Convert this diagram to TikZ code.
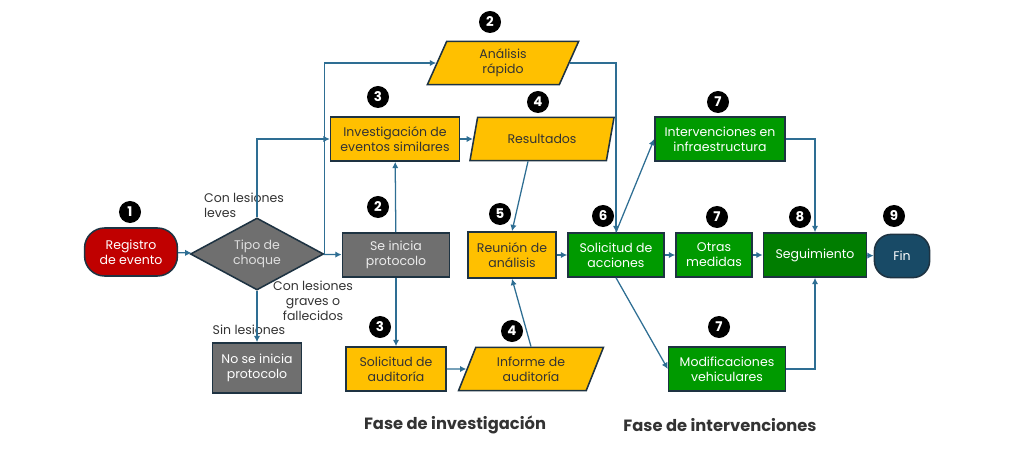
\documentclass[tikz,border=0pt]{standalone}
\usepackage{fontspec}
\setmainfont{Poppins}
\usetikzlibrary{shapes.geometric,arrows.meta}

\definecolor{lineablue}{HTML}{2E6E93}
\definecolor{borde}{HTML}{1E3342}
\definecolor{rojo}{HTML}{C00000}
\definecolor{gris}{HTML}{6F6F6F}
\definecolor{amarillo}{HTML}{FFC000}
\definecolor{verde}{HTML}{009A00}
\definecolor{verdeosc}{HTML}{007D00}
\definecolor{azulfin}{HTML}{184A66}
\definecolor{texto}{HTML}{333333}

\begin{document}
\begin{tikzpicture}[
	x=0.025cm, y=-0.025cm,
	font=\fontsize{8.9}{10.7}\selectfont,
	inicio/.style={
		rectangle,
		draw=borde,
		line width=1.1pt,
		align=center,
		rounded corners=0.5cm,
		fill=rojo,
		text=white,
		minimum height=1.2cm,
		minimum width=2.32cm
	},
	decision/.style={
		diamond,
		draw=borde,
		line width=1.1pt,
		align=center,
		aspect=1.85,
		inner sep=0pt,
		fill=gris,
		text=gray!25,
		minimum height=1.8cm,
		minimum width=3.33cm
	},
	protocolo/.style={
		rectangle,
		draw=borde,
		line width=1.1pt,
		align=center,
		fill=gris,
		text=gray!15,
		minimum height=1.1cm,
		minimum width=2.68cm
	},
	tarea/.style={
		rectangle,
		draw=borde,
		line width=1.1pt,
		align=center,
		inner sep=1pt,
		fill=amarillo,
		text=texto,
		minimum height=1.1cm
	},
	dato/.style={
		trapezium,
		trapezium left angle=58,
		trapezium right angle=122,
		trapezium stretches body=true,
		draw=borde,
		line width=1.1pt,
		align=center,
		inner sep=1pt,
		fill=amarillo,
		text=texto,
		minimum height=1.08cm,
		minimum width=3.62cm
	},
	accion/.style={
		rectangle,
		draw=borde,
		line width=1.1pt,
		align=center,
		inner sep=1pt,
		fill=verde,
		text=white,
		minimum height=1.1cm
	},
	fin/.style={
		rectangle,
		draw=borde,
		line width=1.1pt,
		align=center,
		rounded corners=0.42cm,
		fill=azulfin,
		text=white,
		minimum height=1.08cm,
		minimum width=1.38cm
	},
	num/.style={
		circle,
		fill=black,
		text=white,
		inner sep=0pt,
		minimum size=0.55cm,
		font=\fontsize{9.5}{9.5}\selectfont\bfseries
	},
	rama/.style={
		text=texto,
		inner sep=0pt
	},
	fase/.style={
		text=texto,
		font=\fontsize{11.6}{13}\selectfont\bfseries
	},
	flecha/.style={
		draw=lineablue,
		line width=0.9pt,
		-{Latex[length=4.5pt,width=4.5pt]}
	}
]

\useasboundingbox (0,0) rectangle (1024,465);

\node[inicio] (registro) at (131,252) {Registro\\de evento};
\node[decision] (choque) at (257,254) {Tipo de\\choque};
\node[protocolo, minimum width=2.22cm, minimum height=1.25cm, text=white] (noinicia) at (257,368) {No se inicia\\protocolo};
\node[protocolo] (inicia) at (396,255) {Se inicia\\protocolo};

\node[tarea, minimum width=3.22cm] (investigacion) at (395,139) {Investigación de\\eventos similares};
\node[dato, minimum width=3.78cm] (analisis) at (503,63) {Análisis\\rápido};
\node[dato, minimum width=3.6cm] (resultados) at (542,139) {Resultados};
\node[tarea, minimum width=2.2cm, minimum height=1.15cm] (reunion) at (512,255) {Reunión de\\análisis};
\node[tarea, minimum width=2.5cm] (auditoria) at (396,369) {Solicitud de\\auditoría};
\node[dato] (informe) at (531,369) {Informe de\\auditoría};

\node[accion, minimum width=2.4cm] (acciones) at (616,255) {Solicitud de\\acciones};
\node[accion, minimum width=3.25cm] (infra) at (720,139) {Intervenciones en\\infraestructura};
\node[accion, minimum width=1.9cm] (otras) at (714,255) {Otras\\medidas};
\node[accion, minimum width=2.92cm] (vehiculares) at (727,369) {Modificaciones\\vehiculares};
\node[accion, fill=verdeosc, minimum width=2.58cm] (seguimiento) at (815,255) {Seguimiento};
\node[fin] (final) at (902,256) {Fin};

\node[rama, align=left] (leves) at (244,205) {Con lesiones\\leves};
\node[rama, align=center] (graves) at (313,301) {Con lesiones\\graves o\\fallecidos};
\node[rama] (sin) at (249,330) {Sin lesiones};

\node[num] (n1) at (130,212) {1};
\node[num] (n2a) at (490,22) {2};
\node[num] (n3a) at (378,97) {3};
\node[num] (n4a) at (538,102) {4};
\node[num] (n2b) at (378,207) {2};
\node[num] (n5) at (500,214) {5};
\node[num] (n6) at (603,216) {6};
\node[num] (n7a) at (718,102) {7};
\node[num] (n7b) at (717,217) {7};
\node[num] (n8) at (800,217) {8};
\node[num] (n9) at (894,216) {9};
\node[num] (n3b) at (380,327) {3};
\node[num] (n4b) at (512,331) {4};
\node[num] (n7c) at (719,327) {7};

\node[fase] (faseinv) at (455,425) {Fase de investigación};
\node[fase] (faseint) at (720,425) {Fase de intervenciones};

\draw[flecha] (registro) -- (choque);
\draw[flecha] (choque) -- (inicia);
\draw[flecha] (choque.north) |- (investigacion.west);
\draw[flecha] (choque.east) |- (analisis.west);
\draw[flecha] (choque) -- (noinicia);

\draw[flecha] (inicia) -- (investigacion);
\draw[flecha] (inicia) -- (auditoria);
\draw[flecha] (investigacion) -- (resultados);
\draw[flecha] ([xshift=-0.35cm]resultados.south) -- (reunion.north);
\draw[flecha] (auditoria) -- (informe);
\draw[flecha] (informe.north) -- (reunion.south);
\draw[flecha] (reunion) -- (acciones);
\draw[flecha] (analisis.east) -| (acciones.north);

\draw[flecha] (acciones.north) -- (infra.west);
\draw[flecha] (acciones.south) -- (vehiculares.west);
\draw[flecha] (acciones) -- (otras);
\draw[flecha] (otras) -- (seguimiento);
\draw[flecha] (infra.east) -| (seguimiento.north);
\draw[flecha] (vehiculares.east) -| (seguimiento.south);
\draw[flecha] (seguimiento) -- (final);

\end{tikzpicture}
\end{document}
